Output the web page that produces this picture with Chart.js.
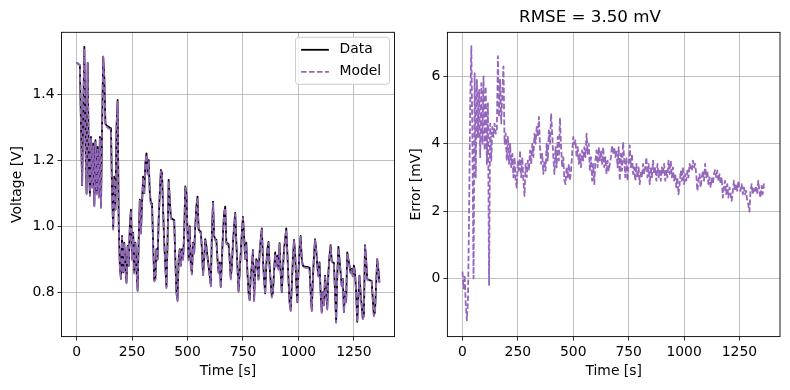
<!DOCTYPE html>
<html>
<head>
<meta charset="utf-8">
<title>Voltage model fit</title>
<script src="https://cdn.jsdelivr.net/npm/chart.js@4.4.1/dist/chart.umd.min.js"></script>
<style>
  body { margin: 0; background: #fff; }
  #wrap { position: relative; width: 790px; height: 390px; }
  #left { position: absolute; left: 0; top: 0; }
  #right { position: absolute; left: 400px; top: 0; }
</style>
</head>
<body>
<div id="wrap">
  <canvas id="left" width="400" height="390"></canvas>
  <canvas id="right" width="390" height="390"></canvas>
</div>
<script>
// sampled every 5 s, 0 .. 1365 s
const times = Array.from({ length: 274 }, (_, i) => i * 5);

// measured voltage [V]
const voltage = [
  1.495, 1.493, 1.490, 1.487, 1.300, 1.124, 1.350, 1.543, 1.250, 1.100,
  1.494, 1.200, 1.094, 1.270, 1.120, 1.250, 1.064, 1.260, 1.100, 1.240,
  1.090, 1.270, 1.058, 1.300, 1.513, 1.450, 1.310, 1.305, 1.302, 1.300,
  1.298, 1.296, 1.100, 0.994, 1.150, 1.050, 1.300, 1.382, 1.000, 0.880,
  0.840, 0.970, 0.860, 0.950, 0.870, 0.830, 0.940, 0.880, 1.000, 1.050,
  0.900, 0.980, 0.860, 0.950, 0.870, 0.806, 0.960, 1.080, 0.980, 1.070,
  1.150, 1.100, 1.190, 1.220, 1.160, 1.200, 1.100, 1.070, 1.068, 0.950,
  0.836, 0.840, 0.930, 0.900, 1.020, 1.100, 1.170, 1.160, 1.050, 0.950,
  0.880, 0.816, 0.950, 1.140, 1.080, 1.025, 1.022, 1.020, 1.018, 0.900,
  0.800, 0.776, 0.900, 0.930, 0.880, 0.930, 0.900, 0.980, 1.120, 1.100,
  0.980, 0.900, 1.000, 0.880, 0.857, 0.950, 0.920, 1.000, 1.060, 1.089,
  0.990, 0.985, 0.982, 0.930, 0.852, 0.900, 0.960, 0.940, 0.907, 0.880,
  0.850, 0.821, 0.980, 1.074, 0.970, 0.960, 0.958, 0.900, 0.860, 0.890,
  0.816, 0.900, 0.980, 1.040, 1.059, 0.950, 0.948, 0.945, 0.900, 0.842,
  0.880, 0.950, 1.000, 1.040, 0.950, 0.880, 0.803, 0.860, 0.920, 0.980,
  1.028, 0.970, 0.900, 0.950, 0.860, 0.800, 0.776, 0.850, 0.880, 0.927,
  0.775, 0.860, 0.900, 0.890, 0.840, 0.920, 0.960, 0.993, 0.900, 0.840,
  0.796, 0.880, 0.930, 0.952, 0.880, 0.830, 0.786, 0.800, 0.860, 0.920,
  0.880, 0.910, 0.870, 0.948, 0.860, 0.800, 0.870, 0.930, 0.960, 0.993,
  0.920, 0.840, 0.770, 0.745, 0.820, 0.900, 0.958, 0.920, 0.830, 0.770,
  0.860, 0.930, 0.970, 0.900, 0.880, 0.878, 0.877, 0.876, 0.876, 0.875,
  0.874, 0.800, 0.745, 0.840, 0.910, 0.960, 0.930, 0.880, 0.850, 0.890,
  0.800, 0.740, 0.800, 0.760, 0.850, 0.800, 0.750, 0.860, 0.910, 0.942,
  0.895, 0.890, 0.888, 0.800, 0.710, 0.850, 0.937, 0.900, 0.860, 0.820,
  0.840, 0.740, 0.800, 0.770, 0.920, 0.900, 0.880, 0.860, 0.870, 0.850,
  0.880, 0.860, 0.800, 0.710, 0.780, 0.850, 0.800, 0.760, 0.720, 0.730,
  0.942, 0.900, 0.840, 0.838, 0.836, 0.835, 0.834, 0.780, 0.730, 0.740,
  0.820, 0.900, 0.870, 0.830
];

// model voltage [V]
const model = [
  1.495, 1.493, 1.490, 1.488, 1.301, 1.125, 1.348, 1.538, 1.243, 1.096,
  1.494, 1.194, 1.091, 1.264, 1.116, 1.244, 1.060, 1.254, 1.096, 1.234,
  1.086, 1.264, 1.055, 1.295, 1.513, 1.445, 1.307, 1.301, 1.298, 1.295,
  1.294, 1.292, 1.093, 0.989, 1.144, 1.045, 1.295, 1.376, 0.996, 0.876,
  0.837, 0.966, 0.857, 0.946, 0.867, 0.826, 0.937, 0.876, 0.997, 1.047,
  0.897, 0.977, 0.856, 0.947, 0.866, 0.803, 0.958, 1.077, 0.977, 1.067,
  1.147, 1.096, 1.187, 1.216, 1.156, 1.196, 1.096, 1.066, 1.064, 0.945,
  0.832, 0.837, 0.926, 0.897, 1.017, 1.097, 1.166, 1.157, 1.046, 0.946,
  0.875, 0.812, 0.946, 1.137, 1.076, 1.022, 1.018, 1.017, 1.013, 0.896,
  0.797, 0.772, 0.897, 0.927, 0.877, 0.927, 0.897, 0.977, 1.117, 1.096,
  0.976, 0.896, 0.996, 0.876, 0.853, 0.947, 0.916, 0.997, 1.056, 1.086,
  0.986, 0.981, 0.978, 0.926, 0.848, 0.897, 0.956, 0.937, 0.904, 0.877,
  0.847, 0.817, 0.977, 1.070, 0.967, 0.956, 0.955, 0.896, 0.857, 0.886,
  0.813, 0.897, 0.977, 1.037, 1.055, 0.946, 0.944, 0.941, 0.896, 0.838,
  0.877, 0.946, 0.997, 1.036, 0.947, 0.876, 0.800, 0.857, 0.916, 0.977,
  1.025, 0.966, 0.897, 0.946, 0.857, 0.797, 0.773, 0.847, 0.877, 0.924,
  0.772, 0.857, 0.897, 0.887, 0.837, 0.917, 0.956, 0.990, 0.897, 0.837,
  0.793, 0.877, 0.927, 0.949, 0.877, 0.827, 0.783, 0.797, 0.857, 0.917,
  0.877, 0.907, 0.867, 0.945, 0.857, 0.797, 0.867, 0.927, 0.957, 0.990,
  0.917, 0.837, 0.767, 0.742, 0.817, 0.898, 0.955, 0.917, 0.827, 0.767,
  0.857, 0.927, 0.967, 0.897, 0.877, 0.875, 0.874, 0.873, 0.873, 0.872,
  0.871, 0.797, 0.742, 0.837, 0.907, 0.957, 0.927, 0.877, 0.847, 0.887,
  0.797, 0.737, 0.797, 0.757, 0.847, 0.797, 0.747, 0.857, 0.907, 0.939,
  0.892, 0.887, 0.885, 0.797, 0.707, 0.848, 0.934, 0.897, 0.858, 0.817,
  0.838, 0.737, 0.798, 0.768, 0.917, 0.897, 0.877, 0.857, 0.867, 0.847,
  0.877, 0.857, 0.797, 0.708, 0.777, 0.848, 0.797, 0.758, 0.718, 0.728,
  0.939, 0.897, 0.838, 0.835, 0.833, 0.832, 0.832, 0.777, 0.727, 0.738,
  0.817, 0.898, 0.867, 0.827
];

// data - model [mV]
const errorMv = [
  0.2, -0.3, 0.1, -0.8, -1.25, -0.6, 2.0, 5.2, 6.9, 4.0,
  0.0, 6.1, 3.0, 5.9, 4.2, 5.6, 3.6, 5.8, 4.0, 6.0,
  3.8, 5.7, 3.4, 5.2, -0.2, 4.6, 3.5, 4.5, 4.2, 4.6,
  4.3, 4.4, 6.6, 4.8, 5.9, 4.6, 5.5, 6.3, 4.0, 4.3,
  3.5, 4.2, 3.4, 4.0, 3.3, 3.7, 3.0, 3.6, 2.9, 2.7,
  3.5, 3.2, 3.8, 3.0, 3.6, 2.9, 2.45, 3.4, 3.0, 3.5,
  3.2, 3.8, 3.4, 4.0, 3.6, 4.3, 4.0, 4.5, 4.2, 4.8,
  3.9, 3.4, 3.7, 3.1, 3.5, 3.2, 4.0, 3.5, 4.4, 4.0,
  4.9, 4.3, 3.6, 3.1, 3.9, 3.3, 4.2, 3.5, 4.77, 3.9,
  3.3, 3.6, 2.9, 2.8, 3.3, 3.0, 3.4, 2.9, 3.2, 3.7,
  4.2, 4.0, 4.1, 3.6, 3.9, 3.4, 3.7, 3.3, 3.8, 3.5,
  3.9, 3.6, 4.3, 3.7, 4.0, 3.2, 3.6, 2.9, 3.4, 2.8,
  3.5, 3.8, 3.3, 3.9, 3.5, 3.8, 3.4, 3.9, 3.3, 3.6,
  3.1, 3.5, 3.2, 3.4, 3.6, 3.95, 3.7, 3.9, 3.6, 3.8,
  3.3, 3.9, 2.9, 3.7, 3.2, 4.05, 3.5, 3.0, 3.6, 2.9,
  3.4, 3.95, 3.3, 3.7, 3.1, 3.3, 2.9, 3.4, 3.0, 3.3,
  2.8, 3.2, 3.0, 3.4, 3.1, 3.3, 3.6, 3.0, 3.4, 2.8,
  3.3, 3.0, 3.5, 3.1, 3.3, 2.9, 3.4, 3.0, 3.2, 2.9,
  3.3, 3.1, 3.4, 2.9, 3.2, 3.0, 3.5, 3.1, 3.5, 3.0,
  3.3, 2.9, 3.1, 2.7, 3.0, 2.5, 2.8, 3.2, 2.9, 3.3,
  2.8, 3.1, 2.9, 3.2, 3.0, 3.4, 3.3, 3.2, 3.5, 3.3,
  3.4, 3.1, 2.6, 2.9, 3.1, 2.7, 3.0, 3.2, 2.9, 3.4,
  3.0, 3.2, 2.8, 3.0, 2.7, 3.0, 2.8, 3.1, 3.22, 3.0,
  3.2, 2.9, 3.1, 2.8, 3.0, 2.4, 2.7, 2.9, 2.5, 2.8,
  2.4, 2.7, 2.5, 2.3, 2.6, 2.9, 2.6, 2.8, 2.6, 2.9,
  2.7, 2.6, 2.8, 2.5, 2.7, 2.5, 2.6, 2.3, 2.2, 1.98,
  2.6, 2.8, 2.5, 2.7, 2.6, 2.75, 2.5, 2.9, 2.6, 2.4,
  2.75, 2.5, 2.8, 2.7
];

const xTicks = [0, 250, 500, 750, 1000, 1250];
const voltTicks = [0.8, 1.0, 1.2, 1.4];
const errTicks = [0, 2, 4, 6];
const rmseTitle = 'RMSE = 3.50 mV';

const purple = '#9467bd';
const lineW = 1.8;
const dash = [5.55, 2.4];

Chart.defaults.font.family = "'DejaVu Sans', sans-serif";
Chart.defaults.font.size = 13.9;
Chart.defaults.color = '#000';

const toPoints = ys => ys.map((y, i) => ({ x: times[i], y: y }));
const setTicks = vals => s => { s.ticks = vals.map(v => ({ value: v })); };

const gridStyle = { color: '#b0b0b0', lineWidth: 0.8, tickColor: '#000', tickLength: 4, tickWidth: 0.8 };

// black box around the plot area, like matplotlib spines
const frame = {
  id: 'frame',
  afterDatasetsDraw(chart) {
    const { ctx, chartArea: a } = chart;
    ctx.save();
    ctx.strokeStyle = '#000';
    ctx.lineWidth = 0.9;
    ctx.strokeRect(a.left, a.top, a.right - a.left, a.bottom - a.top);
    ctx.restore();
  }
};

// legend inside the upper right corner
const boxLegend = {
  id: 'boxLegend',
  afterDraw(chart) {
    const { ctx, chartArea: a } = chart;
    const w = 94, h = 47;
    const x0 = a.right - 5 - w, y0 = a.top + 5;
    ctx.save();
    ctx.beginPath();
    ctx.roundRect(x0, y0, w, h, 3);
    ctx.fillStyle = 'rgba(255,255,255,0.8)';
    ctx.fill();
    ctx.strokeStyle = '#cccccc';
    ctx.lineWidth = 1;
    ctx.stroke();
    chart.data.datasets.forEach((ds, i) => {
      const y = y0 + 12.5 + i * 22;
      ctx.beginPath();
      ctx.setLineDash(ds.borderDash || []);
      ctx.strokeStyle = ds.borderColor;
      ctx.lineWidth = ds.borderWidth;
      ctx.moveTo(x0 + 5.6, y);
      ctx.lineTo(x0 + 33.4, y);
      ctx.stroke();
      ctx.setLineDash([]);
      ctx.fillStyle = '#000';
      ctx.font = "13.9px 'DejaVu Sans'";
      ctx.textBaseline = 'middle';
      ctx.fillText(ds.label, x0 + 44, y);
    });
    ctx.restore();
  }
};

function xScale() {
  return {
    type: 'linear', min: -68, max: 1433,
    afterBuildTicks: setTicks(xTicks),
    afterFit: s => { s.height = 53.4; },
    grid: gridStyle,
    border: { display: false },
    ticks: { padding: 3, maxRotation: 0, autoSkip: false, callback: v => String(v) },
    title: { display: true, text: 'Time [s]', padding: { top: 0, bottom: 10 } }
  };
}

new Chart(document.getElementById('left'), {
  type: 'line',
  data: {
    datasets: [
      { label: 'Data', data: toPoints(voltage), borderColor: '#000', borderWidth: lineW,
        pointRadius: 0, borderJoinStyle: 'round', order: 1 },
      { label: 'Model', data: toPoints(model), borderColor: purple, borderWidth: lineW,
        borderDash: dash, pointRadius: 0, borderJoinStyle: 'round', order: 0 }
    ]
  },
  options: {
    responsive: false,
    animation: false,
    events: [],
    layout: { padding: { top: 32.3, right: 5.5, left: 0, bottom: 0 } },
    scales: {
      x: xScale(),
      y: {
        min: 0.665, max: 1.587,
        afterBuildTicks: setTicks(voltTicks),
        afterFit: s => { s.width = 61.5; },
        grid: gridStyle,
        border: { display: false },
        ticks: { padding: 3, callback: v => v.toFixed(1) },
        title: { display: true, text: 'Voltage [V]', padding: { top: 8.7, bottom: 0 } }
      }
    },
    plugins: { legend: { display: false }, tooltip: { enabled: false } }
  },
  plugins: [frame, boxLegend]
});

new Chart(document.getElementById('right'), {
  type: 'line',
  data: {
    datasets: [
      { label: 'Error', data: toPoints(errorMv), borderColor: purple, borderWidth: lineW,
        borderDash: dash, pointRadius: 0, borderJoinStyle: 'round' }
    ]
  },
  options: {
    responsive: false,
    animation: false,
    events: [],
    layout: { padding: { top: 0, right: 10, left: 0, bottom: 0 } },
    scales: {
      x: xScale(),
      y: {
        min: -1.73, max: 7.31,
        afterBuildTicks: setTicks(errTicks),
        afterFit: s => { s.width = 47.4; },
        grid: gridStyle,
        border: { display: false },
        ticks: { padding: 3, callback: v => String(v) },
        title: { display: true, text: 'Error [mV]', padding: { top: 7.7, bottom: 0 } }
      }
    },
    plugins: {
      legend: { display: false },
      tooltip: { enabled: false },
      title: { display: true, text: rmseTitle, font: { size: 16.7, weight: 'normal' },
               padding: { top: 8, bottom: 4.3 } }
    }
  },
  plugins: [frame]
});
</script>
</body>
</html>
